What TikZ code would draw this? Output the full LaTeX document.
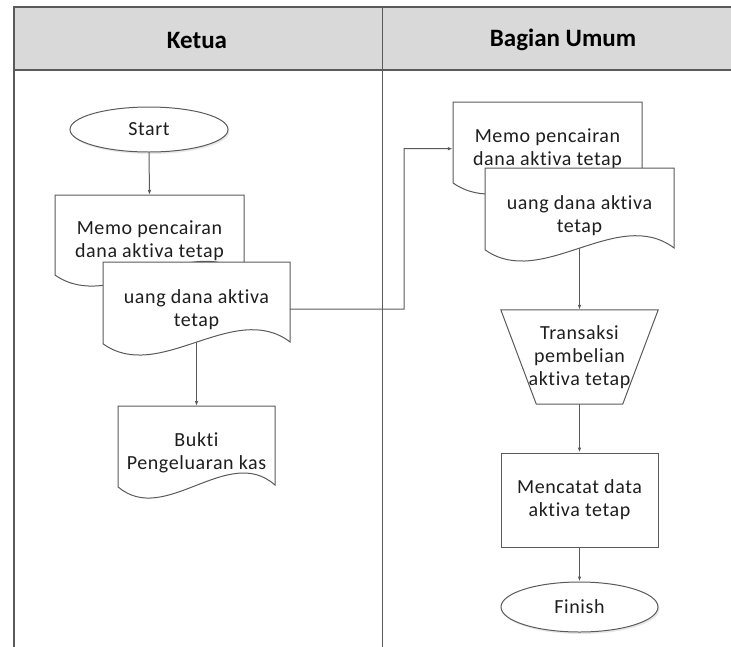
\documentclass[tikz,border=0pt]{standalone}
\usepackage{fontspec}
\setmainfont{Carlito}[Ligatures=NoCommon]
\newfontfamily\bodyfont{Carlito}[Ligatures=NoCommon, LetterSpace=3]
\usetikzlibrary{arrows.meta,shadows,calc,shapes.geometric}
\definecolor{lineC}{HTML}{5A5A5A}
\definecolor{headC}{HTML}{D9D9D9}
\definecolor{txtC}{HTML}{1E1E1E}
\tikzset{
  shapeline/.style={draw=lineC, line width=1pt},
  bodytext/.style={text=txtC, font=\bodyfont\fontsize{20}{23}\selectfont, align=center, inner sep=0pt},
  headtext/.style={text=black, font=\fontsize{25}{28}\selectfont\bfseries, inner sep=0pt},
  arr/.style={draw=lineC, line width=1pt, -{Latex[length=5pt,width=3.5pt]}},
  terminal/.style={ellipse, shapeline, fill=white, bodytext,
     drop shadow={shadow xshift=1.5pt, shadow yshift=-2pt, fill=black!18}},
  procbox/.style={rectangle, shapeline, fill=white, bodytext},
  plainbox/.style={rectangle, bodytext}
}
\newcommand\docshape[6]{% name, cx, top, W, H, text
  \pgfmathsetmacro\docL{#2-#4/2}
  \pgfmathsetmacro\docR{#2+#4/2}
  \pgfmathsetmacro\docYR{#3+0.85*#5}
  \pgfmathsetmacro\docYL{#3+0.87*#5}
  \pgfmathsetmacro\docCa{#2+0.2*#4}
  \pgfmathsetmacro\docCb{#2-0.2*#4}
  \pgfmathsetmacro\docYa{#3+0.40*#5}
  \pgfmathsetmacro\docYb{#3+1.30*#5}
  \pgfmathsetmacro\docYW{#3+0.8525*#5}
  \draw[shapeline, fill=white] (\docL,#3) -- (\docR,#3) -- (\docR,\docYR)
     .. controls (\docCa,\docYa) and (\docCb,\docYb) .. (\docL,\docYL) -- cycle;
  \node[plainbox, minimum width=#4, minimum height=#5, anchor=north] (#1) at (#2,#3) {#6};
  \coordinate (#1-w) at (#2,\docYW);
}
\begin{document}
\begin{tikzpicture}[x=1pt,y=-1pt]
\useasboundingbox (0,0) rectangle (731,646);
% swimlane frame
\fill[headC] (14,7) rectangle (745,70);
\draw[lineC, line width=1.2pt] (745,7) -- (14,7) -- (14,660);
\draw[lineC, line width=1.2pt] (14,70) -- (745,70);
\draw[lineC, line width=1pt] (382,7) -- (382,660);
\node[headtext] (hk) at (197,40) {Ketua};
\node[headtext] (hb) at (563,40) {Bagian Umum};
% left lane
\node[terminal, minimum width=158, minimum height=45] (start) at (149,129.5) {Start};
\docshape{memoL}{149.5}{195}{189}{92}{Memo pencairan\\dana aktiva tetap}
\docshape{uangL}{196.5}{262}{187}{94}{uang dana aktiva\\tetap}
\docshape{bukti}{196.5}{406}{157}{93}{Bukti\\Pengeluaran kas}
% right lane
\docshape{memoR}{547.5}{102}{189}{93}{Memo pencairan\\dana aktiva tetap}
\docshape{uangR}{579.5}{168}{189}{94}{uang dana aktiva\\tetap}
\node[plainbox, minimum width=157, minimum height=94] (trx) at (579.5,357) {Transaksi\\pembelian\\aktiva tetap};
\draw[shapeline] (trx.north west) -- (trx.north east) -- ([xshift=-35.5pt]trx.south east)
   -- ([xshift=35.5pt]trx.south west) -- cycle;
\node[procbox, minimum width=157, minimum height=94] (catat) at (579.5,500) {Mencatat data\\aktiva tetap};
\node[terminal, minimum width=157, minimum height=50] (finish) at (579.5,607) {Finish};
% connectors
\draw[arr] (start.south) -- (memoL.north);
\draw[arr] (uangL-w) -- (bukti.north -| uangL-w);
\coordinate (bend) at (404,309);
\draw[arr] (uangL.east) -- (bend) |- (memoR.west);
\draw[arr] (uangR-w) -- (trx.north);
\draw[arr] (trx.south) -- (catat.north);
\draw[arr] (catat.south) -- (finish.north);
\end{tikzpicture}
\end{document}
